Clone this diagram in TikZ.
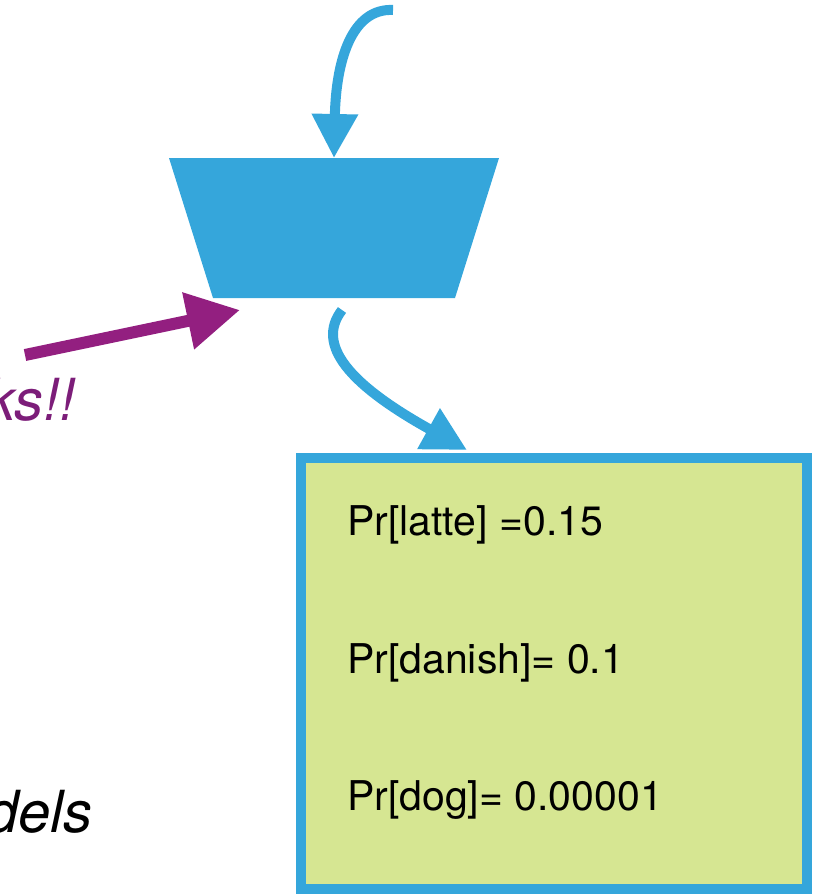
\documentclass[tikz,border=0pt]{standalone}
\usepackage{fontspec}
\setmainfont{TeX Gyre Heros}
\usetikzlibrary{arrows.meta}
\definecolor{flowblue}{HTML}{35A6DB}
\definecolor{boxgreen}{HTML}{D6E692}
\definecolor{arrowpurple}{HTML}{931F80}
\definecolor{notepurple}{HTML}{7C1D79}
\begin{document}
\begin{tikzpicture}[x=1pt,y=-1pt,
  flow/.style={draw=flowblue, line width=10pt, -{Triangle[length=44pt,width=44pt]}},
  hint/.style={draw=arrowpurple, line width=12pt, -{Triangle[length=53pt,width=55pt]}},
  probtext/.style={anchor=base west, inner sep=0pt, font=\fontsize{41}{49}\selectfont},
  remark/.style={anchor=base east, inner sep=0pt, font=\fontsize{58}{68}\selectfont\itshape}]
\useasboundingbox (0,0) rectangle (812,894);

% the model block: a trapezoid, wide side on top
\coordinate (model-tl) at (169,158);
\coordinate (model-tr) at (499,158);
\coordinate (model-br) at (455,298);
\coordinate (model-bl) at (213,298);
\coordinate (model-top) at (334,158);
\fill[flowblue] (model-tl) -- (model-tr) -- (model-br) -- (model-bl) -- cycle;

% output distribution box
\node[draw=flowblue, line width=10pt, fill=boxgreen, anchor=north west,
      minimum width=506pt, minimum height=431pt, inner sep=0pt, outer sep=0pt]
      (dist) at (301,458) {};
\node[probtext] (p1) at (347,535) {Pr[latte] =0.15};
\node[probtext] (p2) at (347,673) {Pr[danish]= 0.1};
\node[probtext] (p3) at (347,810) {Pr[dog]= 0.00001};

% side remarks
\node[remark, text=notepurple] (note) at (76,420) {ks!!};
\node[remark] (models) at (93,832) {dels};

% connectors
\coordinate (inflow) at (393,10);
\coordinate (outstart) at (342,310);
\coordinate (outtip) at (467,450);
\coordinate (hinttail) at (25,355);
\coordinate (hinttip) at (240,310);

\draw[flow] (inflow) .. controls (352,8) and (336,60) .. (model-top);
\draw[flow] (outstart) .. controls (315,345) and (350,385) .. (outtip);
\draw[hint] (hinttail) -- (hinttip);
\end{tikzpicture}
\end{document}
